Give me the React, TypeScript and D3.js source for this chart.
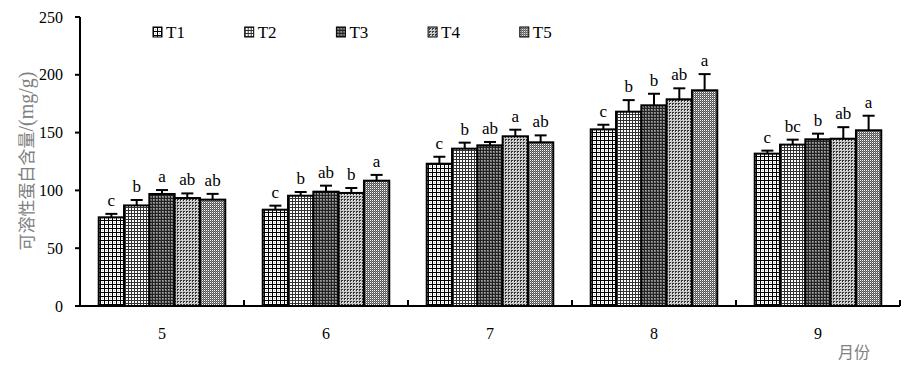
import React from "react";
import * as d3 from "d3";

const months = ["5", "6", "7", "8", "9"];
const series = ["T1", "T2", "T3", "T4", "T5"];
// values[month][series]
const values = [
  [76.7, 87, 96.9, 93.4, 92],
  [83.3, 95.4, 98.9, 97.8, 108.4],
  [123.1, 136.1, 139, 146.8, 141.6],
  [152.8, 168.1, 173.6, 178.8, 186.6],
  [131.8, 139.6, 144.2, 144.7, 152],
];
const errors = [
  [3, 4.7, 3.4, 4, 5],
  [3.5, 3.2, 5.2, 4.3, 5],
  [6, 5.2, 2.9, 5.7, 6],
  [4, 10, 10, 9.5, 14],
  [2.6, 4.3, 4.9, 10, 12.6],
];
const letters = [
  ["c", "b", "a", "ab", "ab"],
  ["c", "b", "ab", "b", "a"],
  ["c", "b", "ab", "a", "ab"],
  ["c", "b", "b", "ab", "a"],
  ["c", "bc", "b", "ab", "a"],
];
const yTicks = [0, 50, 100, 150, 200, 250];

const W = 906;
const H = 372;
const left = 80;
const right = 900;
const top = 17;
const bottom = 306;
const serif = "Liberation Serif";

function Patterns() {
  return (
    <defs>
      <pattern id="p0" width="4" height="4" patternUnits="userSpaceOnUse">
        <rect width="4" height="4" fill="#fff" />
        <rect x="0" y="0" width="4" height="1" fill="#000" />
        <rect x="0" y="0" width="1" height="4" fill="#000" />
        <rect x="2" y="2" width="1" height="1" fill="#bbb" />
      </pattern>
      <pattern id="p1" width="3" height="3" patternUnits="userSpaceOnUse">
        <rect width="3" height="3" fill="#fff" />
        <rect x="0" y="0" width="3" height="1" fill="#333" />
        <rect x="0" y="0" width="1" height="3" fill="#333" />
      </pattern>
      <pattern id="p2" width="3" height="3" patternUnits="userSpaceOnUse">
        <rect width="3" height="3" fill="#777" />
        <rect x="0" y="0" width="3" height="1" fill="#222" />
        <rect x="0" y="0" width="1" height="3" fill="#222" />
        <rect x="1" y="1" width="1" height="1" fill="#aaa" />
      </pattern>
      <pattern id="p3" width="3" height="3" patternUnits="userSpaceOnUse">
        <rect width="3" height="3" fill="#c8c8c8" />
        <rect x="1" y="1" width="2" height="2" fill="#333" />
        <rect x="2" y="2" width="1" height="1" fill="#eee" />
      </pattern>
      <pattern id="p4" width="2" height="2" patternUnits="userSpaceOnUse">
        <rect width="2" height="2" fill="#555" />
        <rect x="0" y="0" width="1" height="1" fill="#fff" />
        <rect x="1" y="1" width="1" height="1" fill="#888" />
      </pattern>
    </defs>
  );
}

export default function App() {
  const x0 = d3.scaleBand<string>().domain(months).range([left, right]).padding(0);
  const x1 = d3
    .scaleBand<string>()
    .domain(series)
    .range([0, x0.bandwidth()])
    .paddingInner(0)
    .paddingOuter(0.74);
  const y = d3.scaleLinear().domain([0, 250]).range([bottom, top]);

  return (
    <svg width={W} height={H} style={{ position: "absolute", left: 0, top: 0 }}>
      <Patterns />
      <rect width={W} height={H} fill="#fff" />

      {/* bars */}
      {months.map((m, mi) => (
        <g key={m} transform={`translate(${x0(m)},0)`}>
          {series.map((s, si) => {
            const v = values[mi][si];
            const e = errors[mi][si];
            const bx = x1(s)!;
            const bw = x1.bandwidth();
            const cx = bx + bw / 2;
            const capY = y(v + e);
            return (
              <g key={s}>
                <line x1={cx} x2={cx} y1={y(v)} y2={capY} stroke="#000" strokeWidth={2} />
                <line x1={cx - 6} x2={cx + 6} y1={capY} y2={capY} stroke="#000" strokeWidth={2} />
                <rect
                  x={bx}
                  y={y(v)}
                  width={bw}
                  height={y(0) - y(v)}
                  fill={`url(#p${si})`}
                  stroke="#000"
                  strokeWidth={2}
                />
                <text
                  x={cx}
                  y={capY - 8}
                  textAnchor="middle"
                  style={{ fontFamily: serif, fontSize: 17 }}
                  fill="#000"
                >
                  {letters[mi][si]}
                </text>
              </g>
            );
          })}
        </g>
      ))}

      {/* y axis */}
      <line x1={left} x2={left} y1={top} y2={bottom} stroke="#000" strokeWidth={2} />
      {yTicks.map((t) => (
        <g key={t}>
          <line x1={left - 5} x2={left} y1={y(t)} y2={y(t)} stroke="#000" strokeWidth={2} />
          <text
            x={left - 17}
            y={y(t)}
            dy="0.35em"
            textAnchor="end"
            style={{ fontFamily: serif, fontSize: 16 }}
          >
            {t}
          </text>
        </g>
      ))}

      {/* x axis */}
      <line x1={left - 1} x2={right} y1={bottom} y2={bottom} stroke="#000" strokeWidth={2} />
      {months.map((m) => (
        <g key={m}>
          <line
            x1={x0(m)! + x0.bandwidth()}
            x2={x0(m)! + x0.bandwidth()}
            y1={bottom}
            y2={bottom - 6}
            stroke="#000"
            strokeWidth={2}
          />
          <text
            x={x0(m)! + x0.bandwidth() / 2}
            y={339}
            textAnchor="middle"
            style={{ fontFamily: serif, fontSize: 16 }}
          >
            {m}
          </text>
        </g>
      ))}

      {/* legend */}
      {series.map((s, si) => (
        <g key={s} transform={`translate(${153 + si * 91.7},27)`}>
          <rect width={9} height={10} fill={`url(#p${si})`} stroke="#000" strokeWidth={1} />
          <text x={13} y={10.5} style={{ fontFamily: serif, fontSize: 17 }}>
            {s}
          </text>
        </g>
      ))}

      {/* axis titles */}
      <text
        transform="translate(33,161) rotate(-90)"
        textAnchor="middle"
        fill="#808080"
        style={{ fontFamily: "Noto Sans CJK SC", fontSize: 17 }}
      >
        可溶性蛋白含量
        <tspan style={{ fontFamily: serif, fontSize: 20 }}>/(mg/g)</tspan>
      </text>
      <text
        x={838}
        y={358}
        fill="#808080"
        style={{ fontFamily: "Noto Sans CJK SC", fontSize: 16 }}
      >
        月份
      </text>
    </svg>
  );
}
